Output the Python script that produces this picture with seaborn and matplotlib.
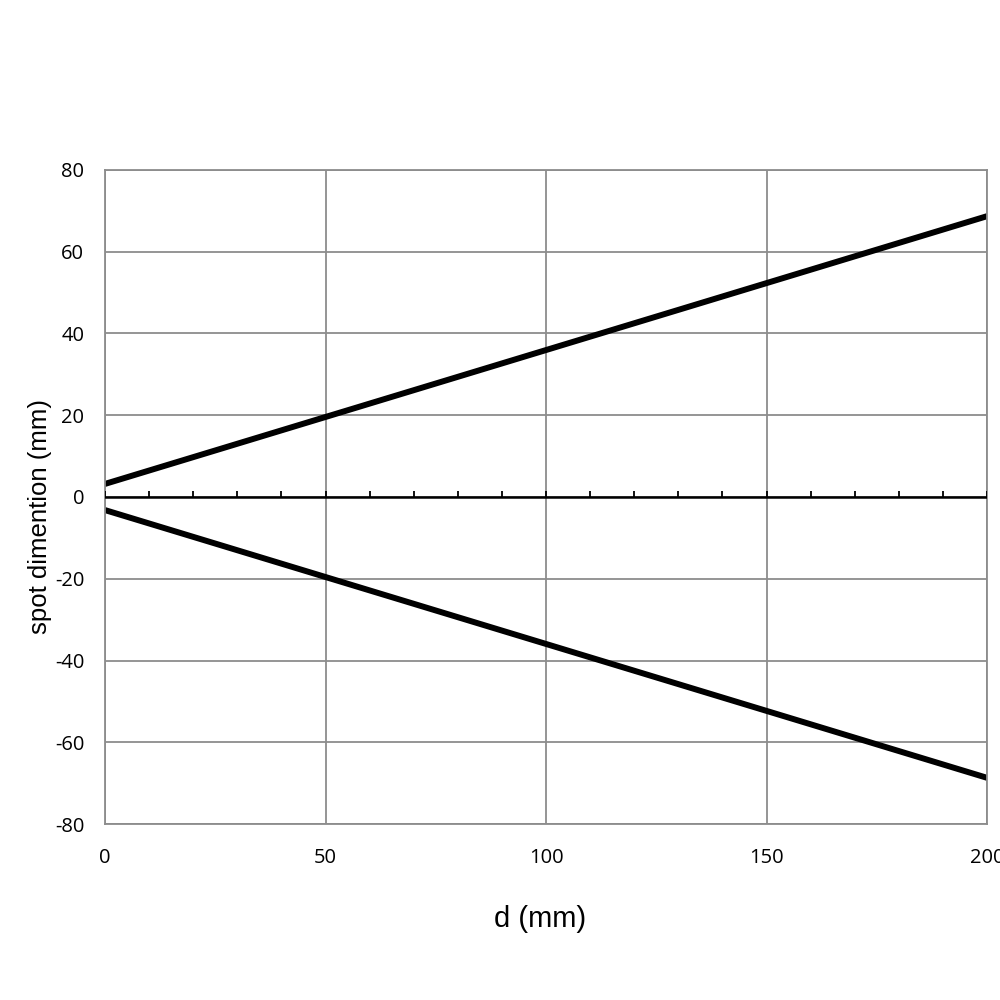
import numpy as np
import pandas as pd
import matplotlib
matplotlib.use("Agg")
import matplotlib.pyplot as plt
import seaborn as sns

# Data
d_mm = [0, 200]
upper_mm = [3.2, 68.7]
lower_mm = [-3.2, -68.7]
x_ticks = [0, 50, 100, 150, 200]
y_ticks = [-80, -60, -40, -20, 0, 20, 40, 60, 80]
minor_x = list(range(0, 201, 10))

df = pd.DataFrame({
    "d": d_mm + d_mm,
    "spot": upper_mm + lower_mm,
    "edge": ["upper"] * len(d_mm) + ["lower"] * len(d_mm),
})

sns.set_theme(style="white")
plt.rcParams["font.family"] = ["Open Sans", "DejaVu Sans"]
plt.rcParams["axes.unicode_minus"] = False

fig = plt.figure(figsize=(10, 10), dpi=100)
ax = fig.add_axes([0.105, 0.176, 0.882, 0.654])

sns.lineplot(data=df, x="d", y="spot", units="edge", estimator=None,
             color="black", linewidth=4.3, ax=ax, legend=False)

ax.set_xlim(0, 200)
ax.set_ylim(-80, 80)
ax.set_xticks(x_ticks)
ax.set_yticks(y_ticks)
ax.grid(True, color="#8c8c8c", linewidth=1.3)
ax.set_axisbelow(True)
for s in ax.spines.values():
    s.set_color("#8c8c8c")
    s.set_linewidth(1.3)

# zero axis with minor ticks
ax.axhline(0, color="black", linewidth=1.8, zorder=3)
ax.vlines(minor_x, 0, 1.5, color="black", linewidth=1.3, zorder=3)

ax.tick_params(axis="both", length=0, labelsize=14.5, colors="black")
ax.tick_params(axis="y", pad=15)
ax.tick_params(axis="x", pad=17)

ax.set_xlabel("")
ax.set_ylabel("")
lab_font = ["Liberation Sans", "DejaVu Sans"]
fig.text(0.540, 0.081, "d (mm)", fontsize=21, family=lab_font, color="black",
         ha="center", va="center")
fig.text(0.040, 0.483, "spot dimention (mm)", fontsize=18.5, family=lab_font,
         color="black", ha="center", va="center", rotation=90)

fig.savefig("out.png", dpi=100, facecolor="white")
